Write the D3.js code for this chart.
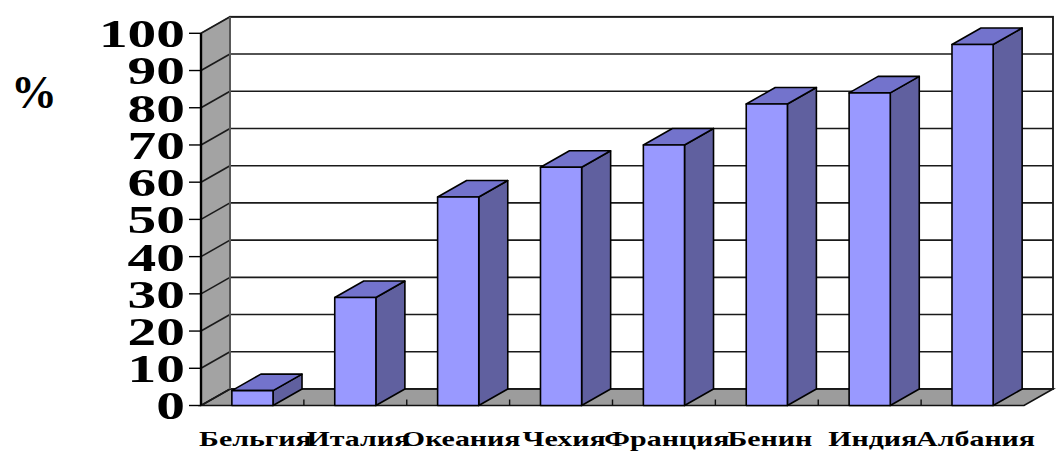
<!DOCTYPE html>
<html>
<head>
<meta charset="utf-8">
<script src="https://cdn.jsdelivr.net/npm/d3@7"></script>
<style>
  html, body { margin: 0; padding: 0; background: #fff; }
  svg { display: block; }
  text { font-family: "Liberation Serif", "Times New Roman", serif; font-weight: bold; fill: #000; }
</style>
</head>
<body>
<svg id="chart" width="1056" height="452"></svg>
<script>
// Share by country, %
const countries = ["Бельгия", "Италия", "Океания", "Чехия", "Франция", "Бенин", "Индия", "Албания"];
const shares = [4, 29, 56, 64, 70, 81, 84, 97];
const yTicks = [0, 10, 20, 30, 40, 50, 60, 70, 80, 90, 100];
const unitLabel = "%";

const svg = d3.select("#chart");

// front plane of the 3D box
const x0 = 201, x1 = 1024;
const y = d3.scaleLinear().domain([0, 100]).range([405.5, 33.3]);
const x = d3.scaleBand().domain(countries).range([x0, x1]).paddingInner(0.6).paddingOuter(0.3);
const xStep = d3.scaleBand().domain(countries).range([x0, x1]).padding(0);
// depth offset of the back plane
const dx = 29, dy = -16.5;

const colFront = "#9999ff", colTop = "#7373cc", colSide = "#60609f";
const wallGrey = "#a3a3a3", floorGrey = "#9c9c9c";
const pts = a => a.map(p => p.join(",")).join(" ");

// left wall
svg.append("polygon")
  .attr("points", pts([[x0, y(0)], [x0, y(100)], [x0 + dx, y(100) + dy], [x0 + dx, y(0) + dy]]))
  .attr("fill", wallGrey).attr("stroke", "#555").attr("stroke-width", 1.2);

// back wall
svg.append("rect")
  .attr("x", x0 + dx).attr("y", y(100) + dy)
  .attr("width", x1 - x0).attr("height", y(0) - y(100))
  .attr("fill", "#fff").attr("stroke", "#111").attr("stroke-width", 1.8);

// floor
svg.append("polygon")
  .attr("points", pts([[x0, y(0)], [x1, y(0)], [x1 + dx, y(0) + dy], [x0 + dx, y(0) + dy]]))
  .attr("fill", floorGrey).attr("stroke", "#111").attr("stroke-width", 1.6);

// gridlines: back wall horizontals and left wall diagonals
const grid = svg.append("g").attr("stroke", "#1a1a1a").attr("stroke-width", 1.6).attr("fill", "none");
yTicks.forEach(t => {
  grid.append("line")
    .attr("x1", x0 + dx).attr("x2", x1 + dx)
    .attr("y1", y(t) + dy).attr("y2", y(t) + dy);
  grid.append("line")
    .attr("x1", x0).attr("y1", y(t))
    .attr("x2", x0 + dx).attr("y2", y(t) + dy);
});
// back wall left edge
svg.append("line")
  .attr("x1", x0 + dx).attr("x2", x0 + dx)
  .attr("y1", y(100) + dy).attr("y2", y(0) + dy)
  .attr("stroke", "#666").attr("stroke-width", 1.6);

// floor category ticks
countries.forEach(c => {
  const xx = xStep(c);
  svg.append("line")
    .attr("x1", xx).attr("x2", xx)
    .attr("y1", y(0)).attr("y2", y(0) - 6)
    .attr("stroke", "#111").attr("stroke-width", 1.4);
});

// bars
const bars = svg.append("g").attr("stroke", "#000").attr("stroke-width", 1.6).attr("stroke-linejoin", "round");
countries.forEach((c, i) => {
  const bx = x(c), bw = x.bandwidth();
  const yt = y(shares[i]), yb = y(0);
  bars.append("polygon")
    .attr("points", pts([[bx + bw, yb], [bx + bw, yt], [bx + bw + dx, yt + dy], [bx + bw + dx, yb + dy]]))
    .attr("fill", colSide);
  bars.append("polygon")
    .attr("points", pts([[bx, yt], [bx + bw, yt], [bx + bw + dx, yt + dy], [bx + dx, yt + dy]]))
    .attr("fill", colTop);
  bars.append("rect")
    .attr("x", bx).attr("y", yt).attr("width", bw).attr("height", yb - yt)
    .attr("fill", colFront);
});

// value axis line and ticks
svg.append("line")
  .attr("x1", x0).attr("x2", x0).attr("y1", y(0)).attr("y2", y(100))
  .attr("stroke", "#000").attr("stroke-width", 2.4);
const yAxis = svg.append("g");
yTicks.forEach(t => {
  yAxis.append("line")
    .attr("x1", x0 - 12).attr("x2", x0)
    .attr("y1", y(t)).attr("y2", y(t))
    .attr("stroke", "#000").attr("stroke-width", 1.4);
  yAxis.append("text")
    .attr("transform", `translate(185,${y(t)}) scale(1.4,1)`)
    .attr("text-anchor", "end")
    .attr("dy", "0.34em")
    .style("font-size", "41px")
    .text(t);
});

// category labels
countries.forEach(c => {
  svg.append("text")
    .attr("transform", `translate(${xStep(c) + xStep.bandwidth() / 2 + 3},446) scale(1.36,1)`)
    .attr("text-anchor", "middle")
    .style("font-size", "22px")
    .text(c);
});

// unit label
svg.append("text")
  .attr("x", 11).attr("y", 108)
  .style("font-size", "46px")
  .text(unitLabel);
</script>
</body>
</html>
